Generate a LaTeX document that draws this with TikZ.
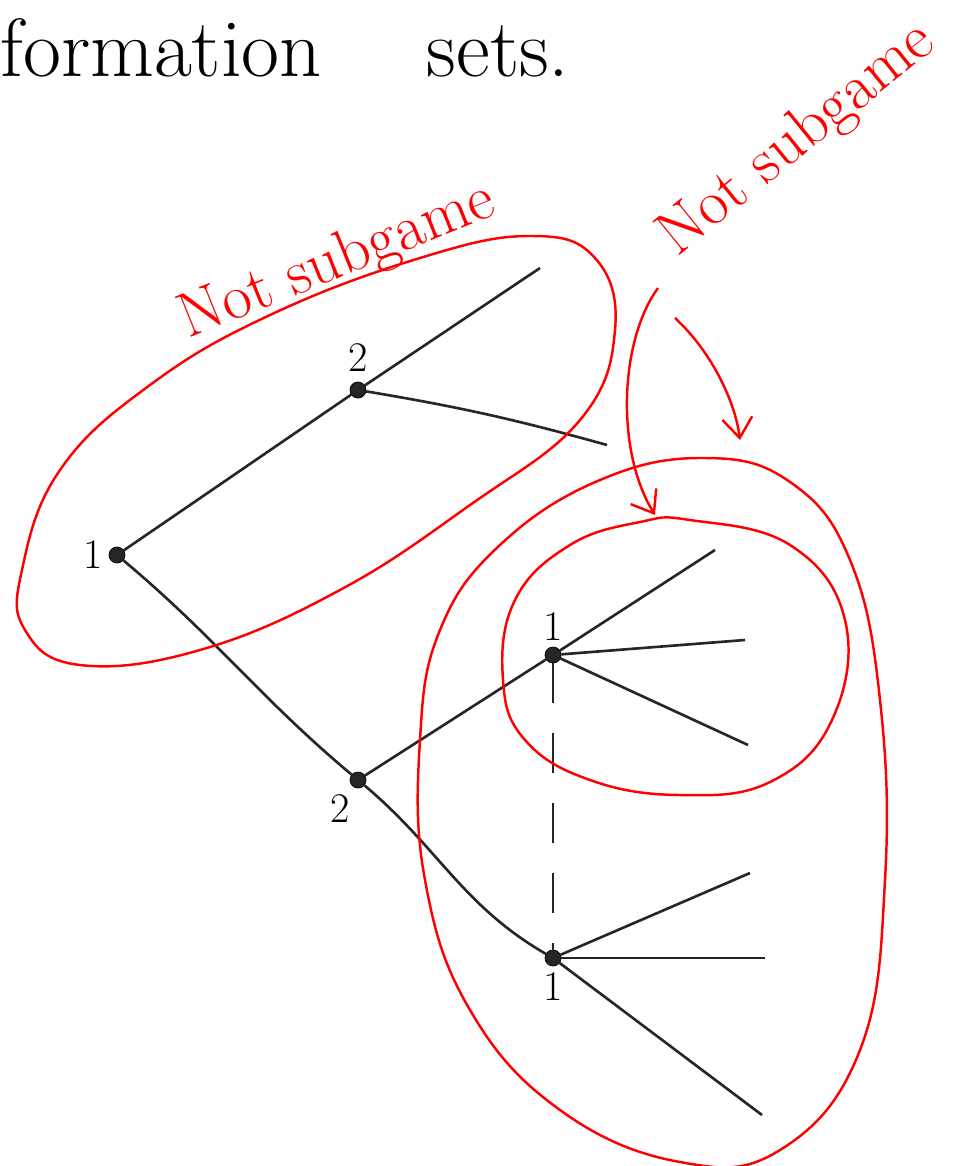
\documentclass[tikz,border=0pt]{standalone}
\usepackage{tikz}
\usetikzlibrary{arrows.meta}
\begin{document}
\begin{tikzpicture}[x=0.02cm, y=-0.02cm,
    dnode/.style={circle, draw=black, fill=black!85, inner sep=0pt, minimum size=0.32cm},
    plabel/.style={font=\fontsize{24}{28}\selectfont},
    branch/.style={line width=1.5pt, black!85},
    setline/.style={red, line width=1.4pt},
    redtext/.style={red, font=\fontsize{36}{42}\selectfont}]
    \useasboundingbox (0,0) rectangle (959,1166);

    % --- TITLE ---
    \node (title) at (0,48) [anchor=west, inner sep=0pt, font=\fontsize{47}{54}\selectfont] {formation\hspace{2.1cm}sets.};

    % --- DECISION NODES ---
    \node (root) at (117,555) [dnode, label={[plabel]left:1}] {};
    \node (up2) at (358,390) [dnode, label={[plabel, yshift=2pt]above:2}] {};
    \node (low2) at (358,780) [dnode, label={[plabel, xshift=-10pt]below:2}] {};
    \node (upA) at (553,655) [dnode, label={[plabel]above:1}] {};
    \node (lowA) at (553,958) [dnode, label={[plabel]below:1}] {};

    % --- TERMINAL ENDS ---
    \coordinate (u1) at (540,268);
    \coordinate (u2) at (607,445);
    \coordinate (a1) at (715,550);
    \coordinate (a2) at (745,640);
    \coordinate (a3) at (748,745);
    \coordinate (b1) at (750,873);
    \coordinate (b2) at (765,958);
    \coordinate (b3) at (762,1115);

    % --- BRANCHES ---
    \draw[branch] (root) -- (up2);
    \draw[branch] (root) to[out=-40, in=140] (low2);
    \draw[branch] (up2) -- (u1);
    \draw[branch] (up2) to[bend left=3] (u2);
    \draw[branch] (low2) -- (upA);
    \draw[branch] (low2) to[out=-40, in=150] (lowA);
    \draw[branch] (upA) -- (a1);
    \draw[branch] (upA) -- (a2);
    \draw[branch] (upA) -- (a3);
    \draw[branch] (lowA) -- (b1);
    \draw[branch] (lowA) -- (b2);
    \draw[branch] (lowA) -- (b3);
    \draw[branch, dash pattern=on 0.8cm off 0.6cm] (upA) -- (lowA); % information set

    % --- SETS (RED) ---
    \draw[setline] plot[smooth cycle, tension=0.7] coordinates {(22,570) (60,470) (150,385) (270,315) (420,258) (530,236) (595,258) (615,330) (580,420) (470,505) (340,590) (200,650) (80,665) (25,630)};
    \draw[setline] plot[smooth cycle, tension=0.7] coordinates {(705,458) (790,482) (850,560) (880,700) (885,880) (860,1050) (780,1150) (680,1162) (560,1110) (470,1010) (425,880) (420,740) (440,630) (500,545) (600,480)};
    \draw[setline] plot[smooth cycle, tension=0.7] coordinates {(690,520) (790,545) (845,620) (832,720) (770,782) (680,795) (590,780) (525,740) (503,680) (515,600) (570,545) (640,522)};

    % --- LABELS AND ARROWS (RED) ---
    \node (ns1) at (338,262) [redtext, rotate=22] {Not subgame};
    \node (ns2) at (798,140) [redtext, rotate=39] {Not subgame};
    \coordinate (t1) at (655,515);
    \coordinate (t2) at (740,440);
    \coordinate (s1) at (658,288);
    \coordinate (s2) at (675,318);
    \draw[setline, -{Straight Barb[length=4mm, width=6mm]}] (s1) .. controls (620,340) and (615,450) .. (t1);
    \draw[setline, -{Straight Barb[length=4mm, width=6mm]}] (s2) .. controls (710,350) and (735,400) .. (t2);
\end{tikzpicture}
\end{document}
